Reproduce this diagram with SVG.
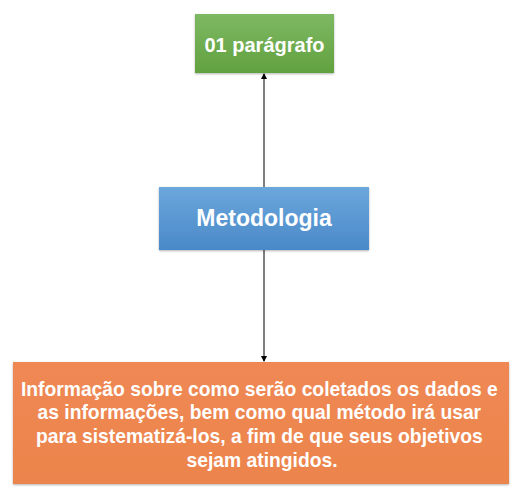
<svg xmlns="http://www.w3.org/2000/svg" width="530" height="496" viewBox="0 0 530 496">
<style>
.lbl{font-family:"Liberation Sans",Arial,sans-serif;font-weight:bold;fill:#ffffff;text-anchor:middle}
.conn{stroke:#000;stroke-width:1;fill:none}
</style>
<defs>
<linearGradient id="gGreen" x1="0" y1="0" x2="0" y2="1"><stop offset="0" stop-color="#7db963"/><stop offset="1" stop-color="#62a13f"/></linearGradient>
<linearGradient id="gBlue" x1="0" y1="0" x2="0" y2="1"><stop offset="0" stop-color="#6ba7dc"/><stop offset="1" stop-color="#4a89c9"/></linearGradient>
<linearGradient id="gOrange" x1="0" y1="0" x2="0" y2="1"><stop offset="0" stop-color="#ef8853"/><stop offset="1" stop-color="#ec844d"/></linearGradient>
<filter id="sh" x="-10%" y="-10%" width="120%" height="130%"><feDropShadow dx="0" dy="1" stdDeviation="1" flood-color="#000" flood-opacity="0.3"/></filter>
<marker id="arr" markerWidth="6" markerHeight="6" refX="5" refY="3" orient="auto" markerUnits="userSpaceOnUse"><path d="M0,0 L6,3 L0,6 z" fill="#000"/></marker>
</defs>
<rect width="530" height="496" fill="#ffffff"/>
<g id="connectors">
<line class="conn" x1="264" y1="187" x2="264" y2="74" marker-end="url(#arr)"/>
<line class="conn" x1="264" y1="250" x2="264" y2="361" marker-end="url(#arr)"/>
</g>
<g id="node-paragrafo">
<rect x="195" y="14" width="139" height="59" fill="url(#gGreen)" filter="url(#sh)"/>
<text class="lbl" x="264.5" y="52" font-size="20">01 parágrafo</text>
</g>
<g id="node-metodologia">
<rect x="159" y="187" width="210" height="63" fill="url(#gBlue)" filter="url(#sh)"/>
<text class="lbl" x="264" y="226" font-size="23">Metodologia</text>
</g>
<g id="node-informacao">
<rect x="13" y="362" width="496" height="122" fill="url(#gOrange)" filter="url(#sh)"/>
<text class="lbl" font-size="19.3">
<tspan x="262" y="395.5">Informação sobre como serão coletados os dados e</tspan>
<tspan x="262" y="419">as informações, bem como qual método irá usar</tspan>
<tspan x="262" y="443">para sistematizá-los, a fim de que seus objetivos</tspan>
<tspan x="262" y="466.5">sejam atingidos.</tspan>
</text>
</g>
</svg>
